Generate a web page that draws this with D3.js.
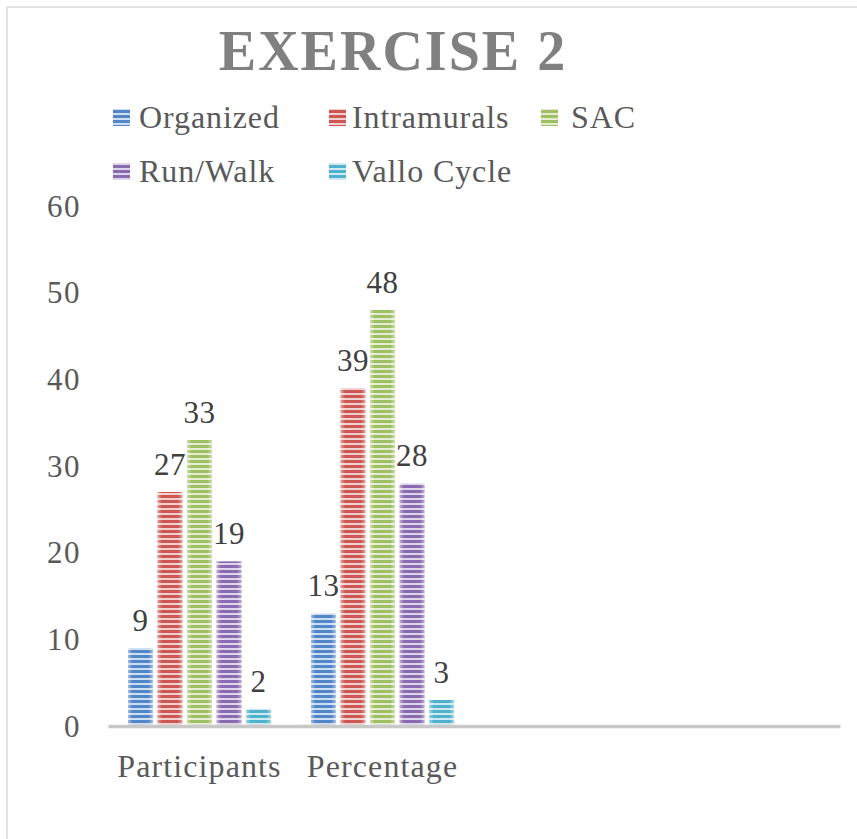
<!DOCTYPE html>
<html>
<head>
<meta charset="utf-8">
<script src="https://cdn.jsdelivr.net/npm/d3@7/dist/d3.min.js"></script>
<style>
  html, body { margin: 0; padding: 0; background: #fff; }
  svg { display: block; }
</style>
</head>
<body>
<svg id="chart" width="857" height="839"></svg>
<script>
// ---- data ----
const title = "EXERCISE 2";
const categories = ["Participants", "Percentage"];
const slotCount = 4;               // axis has room for 4 category slots
const seriesNames = ["Organized", "Intramurals", "SAC", "Run/Walk", "Vallo Cycle"];
const seriesColors = ["#5186c8", "#cc5753", "#9fc062", "#8a6ab0", "#4fb2cc"];
const participantsValues = [9, 27, 33, 19, 2];
const percentageValues = [13, 39, 48, 28, 3];
const yTicks = [0, 10, 20, 30, 40, 50, 60];

const valuesByCategory = [participantsValues, percentageValues];

// ---- layout ----
const svg = d3.select("#chart");
const W = 857, H = 839;
const plot = { left: 108, right: 840, top: 206, bottom: 726 };
const serif = "'Liberation Serif', 'Times New Roman', serif";
const textColor = "#595959";

// chart border (only top and left visible)
svg.append("line").attr("x1", 7).attr("y1", 7).attr("x2", W).attr("y2", 7)
  .attr("stroke", "#d9d9d9").attr("stroke-width", 1.5);
svg.append("line").attr("x1", 7).attr("y1", 7).attr("x2", 7).attr("y2", H)
  .attr("stroke", "#d9d9d9").attr("stroke-width", 1.5);

// patterns
const defs = svg.append("defs");
seriesColors.forEach((c, i) => {
  const light = d3.interpolateRgb(c, "#ffffff")(0.72);
  const p = defs.append("pattern").attr("id", "pat" + i)
    .attr("patternUnits", "userSpaceOnUse").attr("width", 10).attr("height", 5);
  p.append("rect").attr("width", 10).attr("height", 5).attr("fill", light);
  p.append("rect").attr("width", 10).attr("height", 3).attr("fill", c);
});
const edge = defs.append("linearGradient").attr("id", "edge").attr("x1", "0").attr("x2", "1");
edge.append("stop").attr("offset", "0").attr("stop-color", "#fff").attr("stop-opacity", 0.45);
edge.append("stop").attr("offset", "0.18").attr("stop-color", "#fff").attr("stop-opacity", 0);
edge.append("stop").attr("offset", "0.82").attr("stop-color", "#fff").attr("stop-opacity", 0);
edge.append("stop").attr("offset", "1").attr("stop-color", "#fff").attr("stop-opacity", 0.45);

// scales
const x = d3.scaleBand().domain(d3.range(slotCount)).range([plot.left, plot.right]);
const xInner = d3.scaleBand().domain(d3.range(seriesNames.length))
  .range([20, x.bandwidth() - 20]).paddingInner(0.16);
const y = d3.scaleLinear().domain([0, 60]).range([plot.bottom, plot.top]);

// title
svg.append("text").attr("x", 393).attr("y", 70).attr("text-anchor", "middle")
  .attr("font-family", serif).attr("font-weight", "bold").attr("font-size", 56)
  .attr("letter-spacing", 2).attr("fill", "#808080").text(title);

// legend
const legendPos = [
  { sx: 113, sy: 109, tx: 139, ty: 128 },
  { sx: 329, sy: 109, tx: 352, ty: 128 },
  { sx: 541, sy: 109, tx: 571, ty: 128 },
  { sx: 113, sy: 163, tx: 139, ty: 182 },
  { sx: 329, sy: 163, tx: 352, ty: 182 }
];
const lg = svg.append("g");
seriesNames.forEach((name, i) => {
  const pos = legendPos[i];
  lg.append("rect").attr("x", pos.sx).attr("y", pos.sy).attr("width", 17).attr("height", 17)
    .attr("fill", "url(#pat" + i + ")");
  lg.append("text").attr("x", pos.tx).attr("y", pos.ty)
    .attr("font-family", serif).attr("font-size", 32).attr("fill", textColor)
    .attr("letter-spacing", 0.9).text(name);
});

// y axis
const yAxis = svg.append("g").attr("transform", `translate(${plot.left},0)`)
  .call(d3.axisLeft(y).tickValues(yTicks).tickSize(0).tickPadding(27));
yAxis.select(".domain").remove();
yAxis.selectAll("text").attr("font-family", serif).attr("font-size", 31)
  .attr("letter-spacing", 1.5).attr("fill", textColor).attr("dy", "0.33em");

// bars
const groups = svg.append("g").selectAll("g").data(valuesByCategory).join("g")
  .attr("transform", (d, i) => `translate(${x(i)},0)`);
groups.selectAll("rect.bar").data(d => d).join("rect").attr("class", "bar")
  .attr("x", (d, i) => xInner(i)).attr("width", xInner.bandwidth())
  .attr("y", d => y(d)).attr("height", d => y(0) - y(d))
  .attr("fill", (d, i) => "url(#pat" + i + ")");
groups.selectAll("rect.edge").data(d => d).join("rect").attr("class", "edge")
  .attr("x", (d, i) => xInner(i)).attr("width", xInner.bandwidth())
  .attr("y", d => y(d)).attr("height", d => y(0) - y(d))
  .attr("fill", "url(#edge)");
groups.selectAll("text").data(d => d).join("text")
  .attr("x", (d, i) => xInner(i) + xInner.bandwidth() / 2)
  .attr("y", d => y(d) - 17).attr("text-anchor", "middle")
  .attr("font-family", serif).attr("font-size", 31).attr("fill", "#404040")
  .attr("letter-spacing", 0.5)
  .text(d => d);

// x axis
const xAxis = svg.append("g").attr("transform", `translate(0,${plot.bottom})`)
  .call(d3.axisBottom(x).tickSize(0).tickSizeOuter(0).tickPadding(40)
    .tickFormat(i => categories[i] || ""));
xAxis.select(".domain").attr("stroke", "#c8c8c8").attr("stroke-width", 3.5);
xAxis.selectAll("text").attr("font-family", serif).attr("font-size", 32)
  .attr("letter-spacing", 1.1).attr("fill", textColor).attr("dy", "0.33em");
</script>
</body>
</html>
